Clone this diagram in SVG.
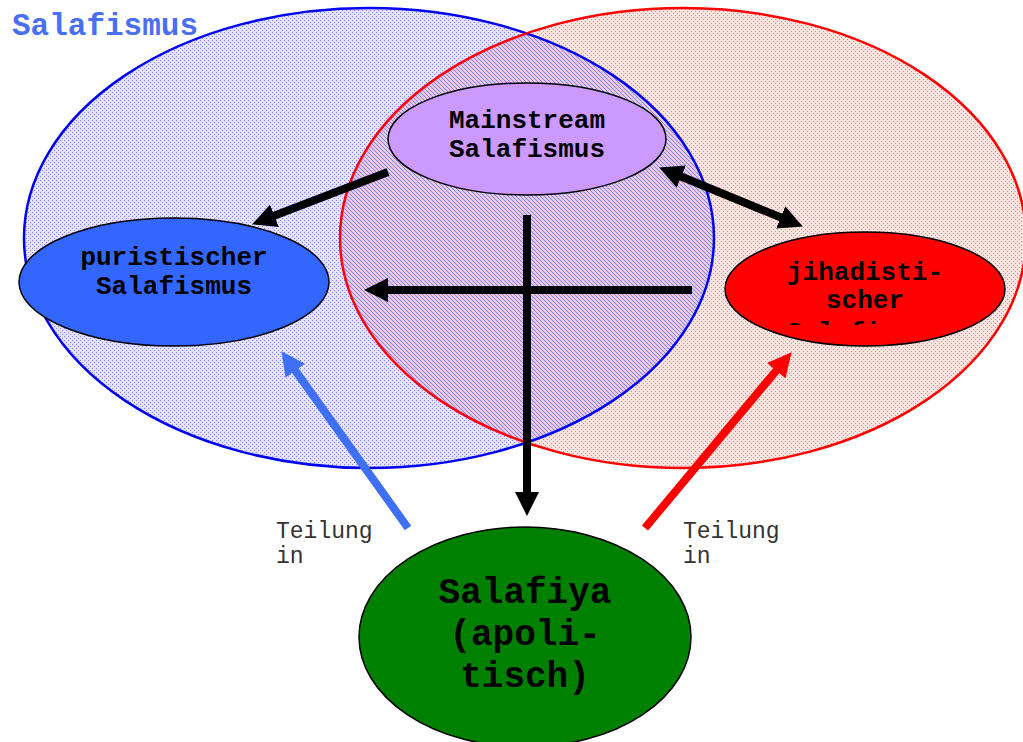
<svg xmlns="http://www.w3.org/2000/svg" width="1023" height="742" viewBox="0 0 1023 742">
<style>
.node{stroke:#000;stroke-width:1.5}
.lbl{font-family:"Liberation Mono","Courier New",monospace;font-weight:bold;font-size:26px;fill:#000;text-anchor:middle}
.big{font-size:36px}
.note{font-family:"Liberation Mono","Courier New",monospace;font-size:23px;fill:#333}
.blk{stroke:#000;stroke-width:8;fill:none}
</style>
<defs>
<pattern id="hb" width="4" height="4" patternUnits="userSpaceOnUse">
<rect width="4" height="4" fill="#2a2aff" fill-opacity="0.13"/>
<rect x="0" y="0" width="1" height="1" fill="#5a5aff" fill-opacity="0.7"/>
<rect x="2" y="2" width="1" height="1" fill="#5a5aff" fill-opacity="0.7"/>
</pattern>
<pattern id="hr" width="4" height="4" patternUnits="userSpaceOnUse">
<rect width="4" height="4" fill="#ff2020" fill-opacity="0.13"/>
<rect x="1" y="1" width="1" height="1" fill="#ff4a4a" fill-opacity="0.7"/>
<rect x="3" y="3" width="1" height="1" fill="#ff4a4a" fill-opacity="0.7"/>
</pattern>
<marker id="ak" markerUnits="userSpaceOnUse" markerWidth="24" markerHeight="24" viewBox="0 0 24 24" refX="1" refY="12" orient="auto-start-reverse"><path d="M0,0 L24,12 L0,24 z" fill="#000"/></marker>
<marker id="ab" markerUnits="userSpaceOnUse" markerWidth="24" markerHeight="24" viewBox="0 0 24 24" refX="1" refY="12" orient="auto"><path d="M0,0 L24,12 L0,24 z" fill="#3f6ff5"/></marker>
<marker id="ar" markerUnits="userSpaceOnUse" markerWidth="24" markerHeight="24" viewBox="0 0 24 24" refX="1" refY="12" orient="auto"><path d="M0,0 L24,12 L0,24 z" fill="#ff0000"/></marker>
<clipPath id="jc"><rect x="700" y="230" width="320" height="95"/></clipPath>
</defs>
<rect width="1023" height="742" fill="#fff"/>
<g id="set-jihad">
<ellipse cx="683" cy="238" rx="343" ry="230" fill="url(#hr)"/>
</g>
<g id="set-salafismus">
<ellipse cx="369" cy="238" rx="345" ry="230" fill="url(#hb)"/>
<ellipse cx="369" cy="238" rx="345" ry="230" fill="none" stroke="#0000ee" stroke-width="2.5"/>
<text x="12" y="35" font-family="Liberation Mono, Courier New, monospace" font-weight="bold" font-size="31" fill="#4a6ef5">Salafismus</text>
</g>
<g id="set-jihad-outline">
<ellipse cx="683" cy="238" rx="343" ry="230" fill="none" stroke="#ff0000" stroke-width="2.5"/>
</g>
<g id="connectors">
<line class="blk" x1="388" y1="172" x2="273.5" y2="216.1" marker-end="url(#ak)"/>
<line class="blk" x1="680.4" y1="176.2" x2="781.6" y2="217.8" marker-start="url(#ak)" marker-end="url(#ak)"/>
<line class="blk" x1="692" y1="290" x2="387" y2="290" marker-end="url(#ak)"/>
<line class="blk" x1="527" y1="215" x2="527" y2="493" marker-end="url(#ak)"/>
<line x1="408" y1="528" x2="294.8" y2="369.9" stroke="#3f6ff5" stroke-width="8" marker-end="url(#ab)"/>
<line x1="645" y1="528" x2="776.9" y2="369.9" stroke="#ff0000" stroke-width="8" marker-end="url(#ar)"/>
<text class="note" x="276" y="538">Teilung</text>
<text class="note" x="276" y="563">in</text>
<text class="note" x="683" y="538">Teilung</text>
<text class="note" x="683" y="563">in</text>
</g>
<g id="mainstream">
<ellipse class="node" cx="527" cy="139" rx="139" ry="56" fill="#cc99ff"/>
<text class="lbl" x="527" y="128">Mainstream</text>
<text class="lbl" x="527" y="157">Salafismus</text>
</g>
<g id="puristisch">
<ellipse class="node" cx="174" cy="282" rx="155" ry="64" fill="#3366ff"/>
<text class="lbl" x="174" y="265">puristischer</text>
<text class="lbl" x="174" y="294">Salafismus</text>
</g>
<g id="jihadistisch">
<ellipse class="node" cx="865" cy="289" rx="140" ry="57" fill="#ff0000"/>
<g clip-path="url(#jc)">
<text class="lbl" x="865" y="280">jihadisti-</text>
<text class="lbl" x="865" y="308">scher</text>
<text class="lbl" x="865" y="340">Salafismus</text>
</g>
</g>
<g id="salafiya">
<ellipse class="node" cx="525" cy="637" rx="166" ry="110" fill="#008000"/>
<text class="lbl big" x="525" y="603">Salafiya</text>
<text class="lbl big" x="525" y="645">(apoli-</text>
<text class="lbl big" x="525" y="687">tisch)</text>
</g>
</svg>
